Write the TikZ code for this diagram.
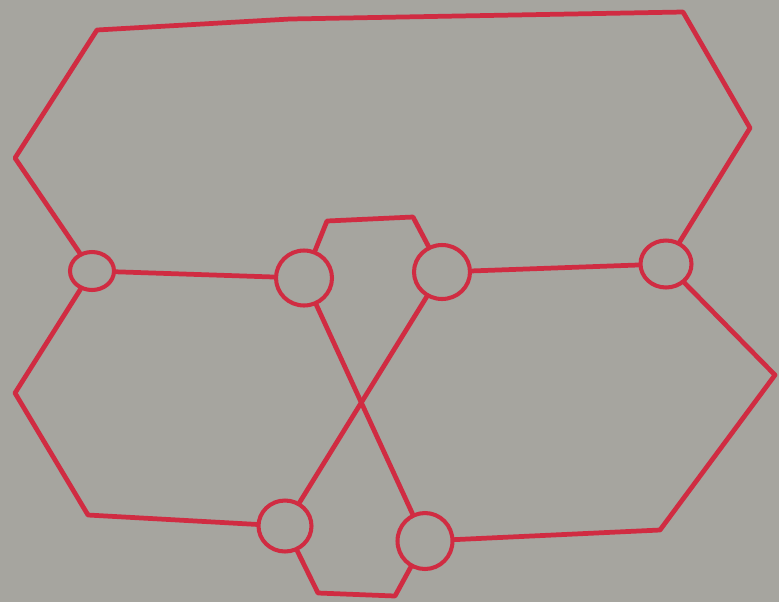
\documentclass[tikz,border=0pt]{standalone}
\usepackage{tikz}
\usetikzlibrary{shapes.geometric}
\definecolor{paper}{RGB}{166,165,159}
\definecolor{marker}{RGB}{208,44,66}

\begin{document}
\begin{tikzpicture}[x=0.2mm, y=-0.2mm,
    knot/.style={draw=marker, line width=2.3pt, ellipse, inner sep=0pt},
    strand/.style={draw=marker, line width=2.7pt, line join=round, line cap=round}]
\fill[paper] (0,0) rectangle (779,602);
\useasboundingbox (0,0) rectangle (779,602);
% crossings
\node[knot, minimum width=0.88cm, minimum height=0.76cm] (a) at (92,271) {};
\node[knot, minimum width=1.12cm, minimum height=1.1cm] (b) at (304,278) {};
\node[knot, minimum width=1.12cm, minimum height=1.08cm] (c) at (442,272) {};
\node[knot, minimum width=1.02cm, minimum height=0.94cm] (d) at (666,264) {};
\node[knot, minimum width=1.06cm, minimum height=1.02cm] (e) at (285,526) {};
\node[knot, minimum width=1.1cm, minimum height=1.12cm] (f) at (425,541) {};
% outer loops
\draw[strand] (a) -- (15,158) -- (97,30) -- (290,19) -- (683,12) -- (750,128) -- (d);
\draw[strand] (a) -- (15,393) -- (88,515) -- (e);
\draw[strand] (d) -- (775,375) -- (660,530) -- (f);
% straight links
\draw[strand] (a) -- (b);
\draw[strand] (c) -- (d);
% small arches
\draw[strand] (b) -- (327,221) -- (413,217) -- (c);
\draw[strand] (e) -- (318,593) -- (395,596) -- (f);
% the cross
\draw[strand] (b) -- (f);
\draw[strand] (c) -- (e);
\end{tikzpicture}
\end{document}
